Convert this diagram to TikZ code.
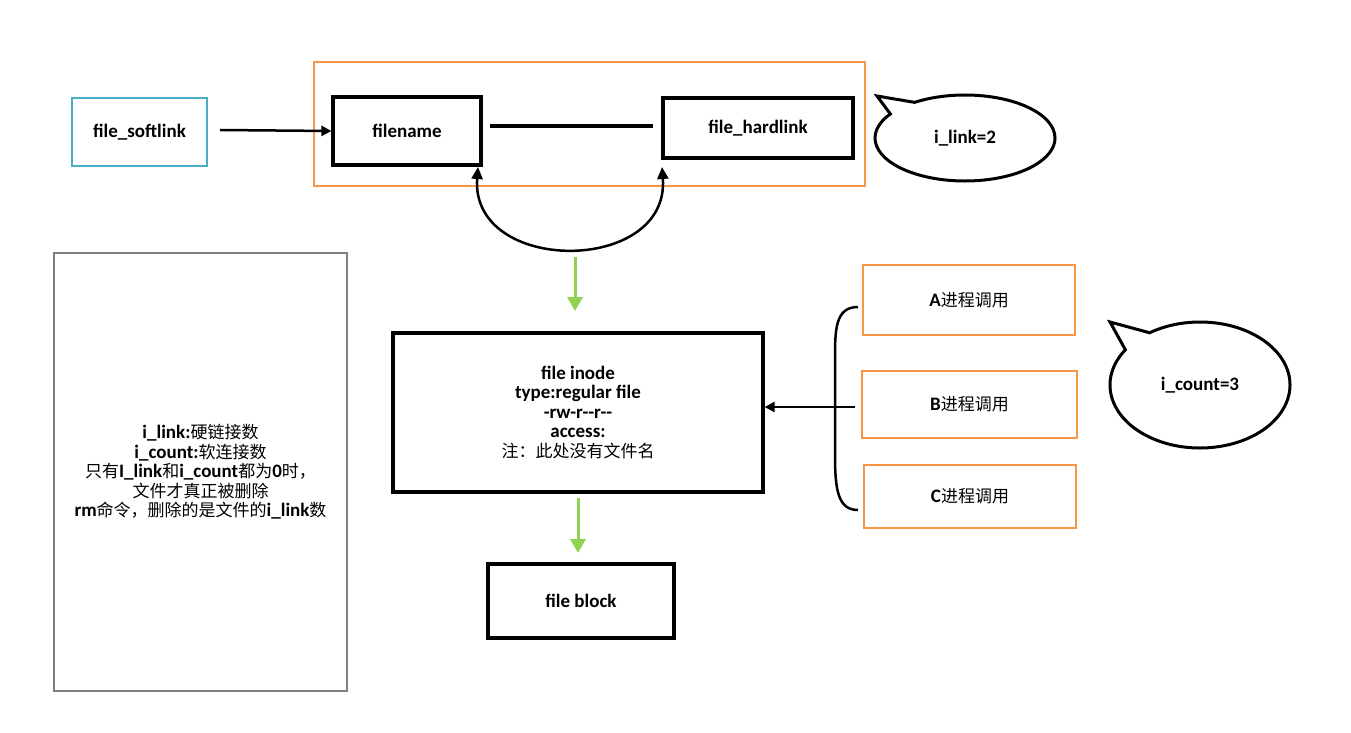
\documentclass[tikz,border=0pt]{standalone}
\usepackage{fontspec}
\setmainfont{Carlito}
\newfontfamily\cjk{Noto Sans CJK SC}
\newcommand{\cn}[1]{{\cjk\mdseries\fontsize{17}{19.5}\selectfont #1}}
\usetikzlibrary{shapes.callouts,arrows.meta}
\definecolor{orng}{HTML}{F79646}
\definecolor{blu}{HTML}{4BACC6}
\definecolor{grn}{HTML}{92D050}
\definecolor{gry}{HTML}{7F7F7F}
\tikzset{
  txt/.style={font=\bfseries\fontsize{19}{19.5}\selectfont,align=center,inner sep=0pt},
  bx/.style={txt,draw=black,line width=3.2pt},
  obox/.style={txt,draw=orng,line width=1.6pt},
  conn/.style={line width=2.5pt,-{Triangle[length=10pt,width=10pt]}},
  garrow/.style={draw=grn,line width=3pt,-{Triangle[length=14pt,width=15pt]}},
  bubble/.style={txt,ellipse callout,draw=black,line width=3pt,callout pointer arc=22}
}
\begin{document}
\begin{tikzpicture}[x=1pt,y=-1pt]
\useasboundingbox (0,0) rectangle (1351,733);
% outer orange group
\node[draw=orng,line width=1.6pt,minimum width=551pt,minimum height=124pt,inner sep=0pt] (grp) at (589.5,124) {};
\node[txt,draw=blu,line width=1.6pt,minimum width=135pt,minimum height=68pt] (soft) at (139.5,132) {file\_softlink};
\node[bx,minimum width=148pt,minimum height=68pt] (fn) at (407,131) {filename};
\node[bx,minimum width=190pt,minimum height=60pt] (hl) at (758,128) {file\_hardlink};
\coordinate (l1) at (490,126);
\coordinate (l2) at (653,126);
\draw[line width=3.2pt] (l1) -- (l2);
\coordinate (s1) at (220,130);
\draw[conn] (s1) -- (fn.west);
% arc
\coordinate (a1) at (478,167);
\coordinate (a2) at (662,167);
\draw[line width=2.5pt,{Triangle[length=12pt,width=11pt]}-{Triangle[length=12pt,width=11pt]}] (a1) .. controls (470,275) and (670,275) .. (a2);
% bubble 1
\node[bubble,minimum width=180pt,minimum height=86pt,callout absolute pointer={(877,96)}] (b1) at (965,138) {i\_link=2};
% inode
\node[bx,minimum width=370pt,minimum height=159pt] (inode) at (578,412.5) {file inode\\type:regular file\\-rw-r{-}{-}r{-}{-}\\access:\\\cn{注：此处没有文件名}};
\coordinate (g1) at (575,257);
\draw[garrow] (g1) -- (575,311);
\coordinate (g2) at (578,498);
\draw[garrow] (g2) -- (578,553);
\node[bx,minimum width=186pt,minimum height=74pt] (blk) at (581,601) {file block};
% left box
\node[txt,draw=gry,line width=1.6pt,minimum width=293pt,minimum height=438pt] (note) at (200.5,472) {i\_link:\cn{硬链接数}\\i\_count:\cn{软连接数}\\\cn{只有}I\_link\cn{和}i\_count\cn{都为}0\cn{时，}\\\cn{文件才真正被删除}\\rm\cn{命令，删除的是文件的}i\_link\cn{数}};
% process boxes
\node[obox,minimum width=212pt,minimum height=70pt] (pa) at (969,300) {A\cn{进程调用}};
\node[obox,minimum width=215pt,minimum height=67pt] (pb) at (969.5,404.5) {B\cn{进程调用}};
\node[obox,minimum width=212pt,minimum height=63pt] (pc) at (970,496.5) {C\cn{进程调用}};
% brace
\coordinate (bt) at (858,307);
\coordinate (bb) at (858,510);
\coordinate (bm) at (855,407);
\draw[line width=2.5pt] (bt) .. controls (835,307) and (835,330) .. (835,360) -- (835,455) .. controls (835,490) and (838,510) .. (bb);
\draw[conn] (bm) -- (inode.east |- bm);
% bubble 2
\node[bubble,minimum width=180pt,minimum height=126pt,callout absolute pointer={(1110,322)}] (b2) at (1200,385) {i\_count=3};
\end{tikzpicture}
\end{document}
